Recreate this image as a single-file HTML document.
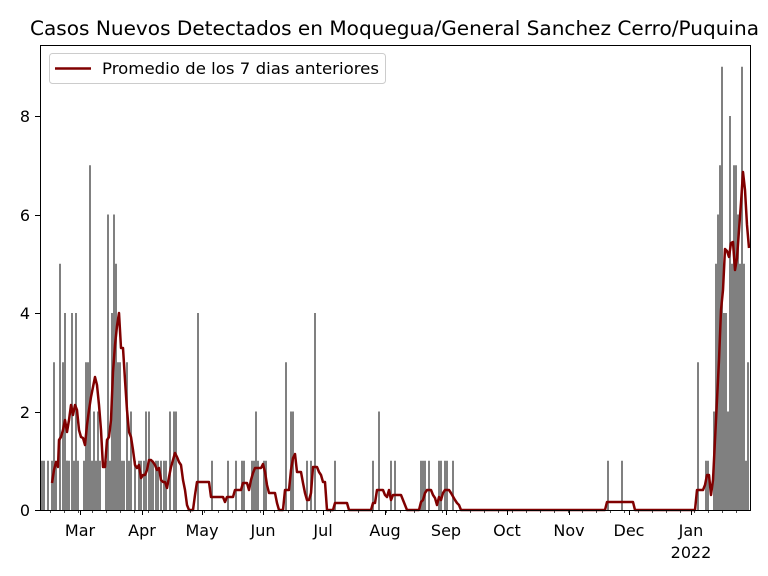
<!DOCTYPE html>
<html><head><meta charset="utf-8"><style>
body{margin:0;background:#fff;}
svg{display:block;font-family:"DejaVu Sans","Liberation Sans",sans-serif;}
</style></head><body>
<svg width="768" height="576" viewBox="0 0 768 576" xmlns="http://www.w3.org/2000/svg">
<rect width="768" height="576" fill="#fff"/>
<text x="30" y="35" font-size="19.5" textLength="729" lengthAdjust="spacingAndGlyphs" fill="#000">Casos Nuevos Detectados en Moquegua/General Sanchez Cerro/Puquina</text>
<g id="bars" fill="#808080"></g>
<polyline id="avg" fill="none" stroke="#800000" stroke-width="2.5" stroke-linejoin="round" points=""/>
<rect x="40.5" y="45.5" width="710" height="465" fill="none" stroke="#000" stroke-width="1"/>
<g stroke="#000" stroke-width="1">
<line x1="40" y1="510.5" x2="35" y2="510.5"/><line x1="40" y1="412.5" x2="35" y2="412.5"/><line x1="40" y1="313.5" x2="35" y2="313.5"/><line x1="40" y1="215.5" x2="35" y2="215.5"/><line x1="40" y1="116.5" x2="35" y2="116.5"/>
<g id="xt"></g>
</g>
<g font-size="16" fill="#000" text-anchor="end">
<text x="30" y="516">0</text><text x="30" y="418">2</text><text x="30" y="319">4</text><text x="30" y="221">6</text><text x="30" y="122">8</text>
</g>
<g font-size="16" fill="#000" text-anchor="middle">
<text x="80" y="536">Mar</text><text x="142" y="536">Apr</text><text x="202" y="536">May</text><text x="263" y="536">Jun</text><text x="323" y="536">Jul</text><text x="385" y="536">Aug</text><text x="446" y="536">Sep</text><text x="507" y="536">Oct</text><text x="569" y="536">Nov</text><text x="629" y="536">Dec</text><text x="691" y="536">Jan</text><text x="691" y="558">2022</text>
</g>
<rect x="49.5" y="53.5" width="336" height="30" rx="3" fill="#fff" fill-opacity="0.8" stroke="#ccc"/>
<line x1="55" y1="68.5" x2="91" y2="68.5" stroke="#800000" stroke-width="2.5"/>
<text x="102" y="74" font-size="16" textLength="277" lengthAdjust="spacingAndGlyphs" fill="#000">Promedio de los 7 dias anteriores</text>
</svg>
<script>
var bars=[[41,1],[43,1],[47,1],[51,1],[53,3],[55,1],[59,5],[62,3],[64,1],[66,1],[64,4],[66,1],[68,1],[71,4],[73,1],[75,4],[77,1],[83,1],[85,3],[87,3],[89,7],[91,1],[93,2],[95,1],[97,2],[99,1],[105,1],[107,6],[109,1],[111,4],[113,6],[115,5],[117,3],[119,3],[121,1],[123,1],[126,3],[128,1],[130,2],[134,1],[138,1],[140,1],[143,1],[145,2],[148,2],[150,1],[152,1],[155,1],[157,1],[160,1],[163,1],[165,1],[169,2],[173,2],[175,2],[197,4],[211,1],[227,1],[235,1],[241,1],[243,1],[251,1],[253,1],[255,2],[257,1],[263,1],[265,1],[285,3],[290,2],[292,2],[306,1],[310,1],[314,4],[334,1],[372,1],[378,2],[390,1],[394,1],[420,1],[422,1],[424,1],[428,1],[438,1],[440,1],[444,1],[446,1],[452,1],[607,1],[621,1],[697,3],[705,1],[707,1],[713,2],[715,5],[717,6],[719,7],[721,9],[723,4],[725,4],[727,2],[729,8],[731,5],[733,7],[735,7],[737,6],[739,5],[741,9],[743,5],[745,1],[747,3]];
var g=document.getElementById('bars'),s='';
bars.forEach(function(b){var h=b[1]*49.25;s+='<rect x="'+b[0]+'" y="'+(510-h)+'" width="2" height="'+h+'"/>';});
g.innerHTML=s;
document.getElementById('avg').setAttribute('points',"52,483 54,470 56,462 58,467 59,440 61,437 63,430 65,420 67,432 69,420 71,405 73,415 75,405 77,410 79,430 81,437 83,438 85,445 87,425 89,410 91,397 93,387 95,377 97,385 99,405 101,430 103,467 105,467 107,440 109,437 111,420 113,372 115,345 117,326 119,313 121,348 123,348 125,380 127,410 129,432 131,437 133,450 135,465 137,468 139,465 141,478 143,475 145,475 147,470 149,460 151,460 153,462 155,465 157,470 159,468 161,480 163,482 165,482 167,488 169,477 171,467 173,460 175,453 177,457 179,462 181,465 183,480 185,490 187,505 189,510 193,510 195,495 197,482 209,482 211,497 223,497 225,502 227,497 233,497 235,490 241,490 243,483 247,483 249,490 251,480 253,473 255,468 261,468 263,464 265,472 267,485 269,493 275,493 277,503 279,510 283,510 285,490 289,490 291,470 293,458 295,454 297,472 301,472 303,483 305,493 307,500 309,500 311,493 313,467 317,467 319,472 321,475 323,482 325,482 327,510 333,510 335,503 347,503 349,510 371,510 373,503 375,503 377,490 383,490 385,495 387,497 389,490 391,500 393,495 401,495 403,500 405,505 407,510 419,510 421,502 423,500 425,493 427,490 431,490 433,495 435,498 437,505 439,497 441,500 443,493 445,490 449,490 451,493 455,500 457,503 459,505 461,510 605,510 607,502 633,502 635,510 695,510 697,490 703,490 705,485 707,475 709,475 711,495 713,480 715,440 717,400 719,360 721,310 723,290 725,249 727,251 729,257 731,243 733,242 735,270 737,258 739,230 741,203 743,172 745,190 747,225 749,248");
var xt='';[80,142,202,263,323,385,446,507,569,629,691].forEach(function(x){xt+='<line x1="'+(x+.5)+'" y1="510" x2="'+(x+.5)+'" y2="515"/>';});
for(var x=50;x<750;x+=14){xt+='<line x1="'+(x+.5)+'" y1="510" x2="'+(x+.5)+'" y2="513" stroke-width="0.7"/>';}
document.getElementById('xt').innerHTML=xt;
</script>
</body></html>
